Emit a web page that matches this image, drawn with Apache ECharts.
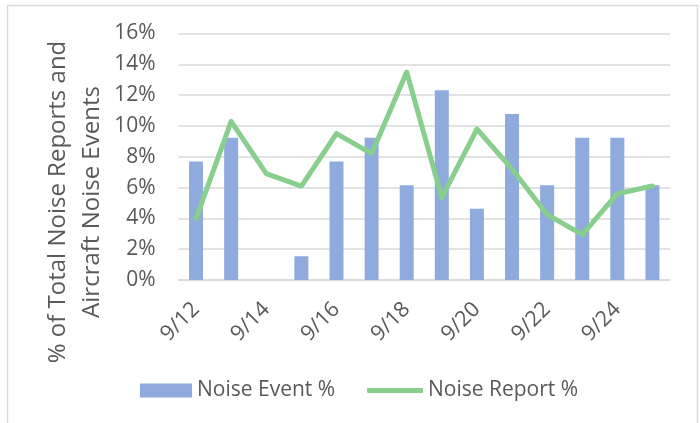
<!DOCTYPE html>
<html>
<head>
<meta charset="utf-8">
<script src="https://cdn.jsdelivr.net/npm/echarts@6/dist/echarts.min.js"></script>
<style>
html,body{margin:0;padding:0;background:#fff;}
#chart{width:700px;height:423px;}
</style>
</head>
<body>
<div id="chart"></div>
<script>
const categories = ['9/12','9/13','9/14','9/15','9/16','9/17','9/18','9/19','9/20','9/21','9/22','9/23','9/24','9/25'];
const noiseEvent = [7.69, 9.23, 0, 1.54, 7.69, 9.23, 6.15, 12.31, 4.62, 10.77, 6.15, 9.23, 9.23, 6.15];
const noiseReport = [4.0, 10.3, 6.9, 6.1, 9.5, 8.2, 13.5, 5.35, 9.8, 7.2, 4.25, 2.95, 5.6, 6.1];
const yTitle = '% of Total Noise Reports and\nAircraft Noise Events';

const font = 'Open Sans';
const txt = '#595959';
const chart = echarts.init(document.getElementById('chart'));
chart.setOption({
  animation: false,
  textStyle: { fontFamily: font },
  graphic: [{
    type: 'rect', shape: { x: 7.5, y: 5.5, width: 690, height: 440 },
    style: { fill: 'none', stroke: '#d9d9d9', lineWidth: 1.5 }, silent: true
  }, {
    type: 'text', x: 75, y: 202, rotation: Math.PI / 2,
    style: { text: yTitle, font: '24px "Open Sans"', fill: txt, align: 'center', verticalAlign: 'middle', lineHeight: 34 },
    silent: true
  }],
  grid: { left: 178.5, right: 30, top: 33.5, bottom: 143 },
  legend: [{
    top: 375, left: 135,
    itemWidth: 52, itemHeight: 14,
    textStyle: { fontFamily: font, fontSize: 21, color: txt },
    data: [{ name: 'Noise Event %', icon: 'rect' }]
  }, {
    top: 375, left: 362,
    itemWidth: 56, itemHeight: 5, itemGap: 4,
    textStyle: { fontFamily: font, fontSize: 21, color: txt },
    data: [{ name: 'Noise Report %', icon: 'roundRect' }]
  }],
  xAxis: {
    type: 'category', data: categories,
    axisLine: { lineStyle: { color: '#d9d9d9', width: 1.5 } },
    axisTick: { show: false },
    axisLabel: { interval: 1, rotate: 45, fontFamily: font, fontSize: 21.5, color: txt, margin: 26 }
  },
  yAxis: {
    type: 'value', min: 0, max: 16, interval: 2,
    axisLabel: { formatter: '{value}%', fontFamily: font, fontSize: 21, color: txt, margin: 23 },
    splitLine: { lineStyle: { color: '#d9d9d9', width: 1.5 } },
    axisLine: { show: false }, axisTick: { show: false }
  },
  series: [
    { name: 'Noise Event %', type: 'bar', data: noiseEvent, barWidth: 14,
      itemStyle: { color: '#8faadc' } },
    { name: 'Noise Report %', type: 'line', data: noiseReport, symbol: 'none',
      lineStyle: { color: '#88cf8e', width: 5, cap: 'round', join: 'round' },
      itemStyle: { color: '#88cf8e' } }
  ]
});
</script>
</body>
</html>
